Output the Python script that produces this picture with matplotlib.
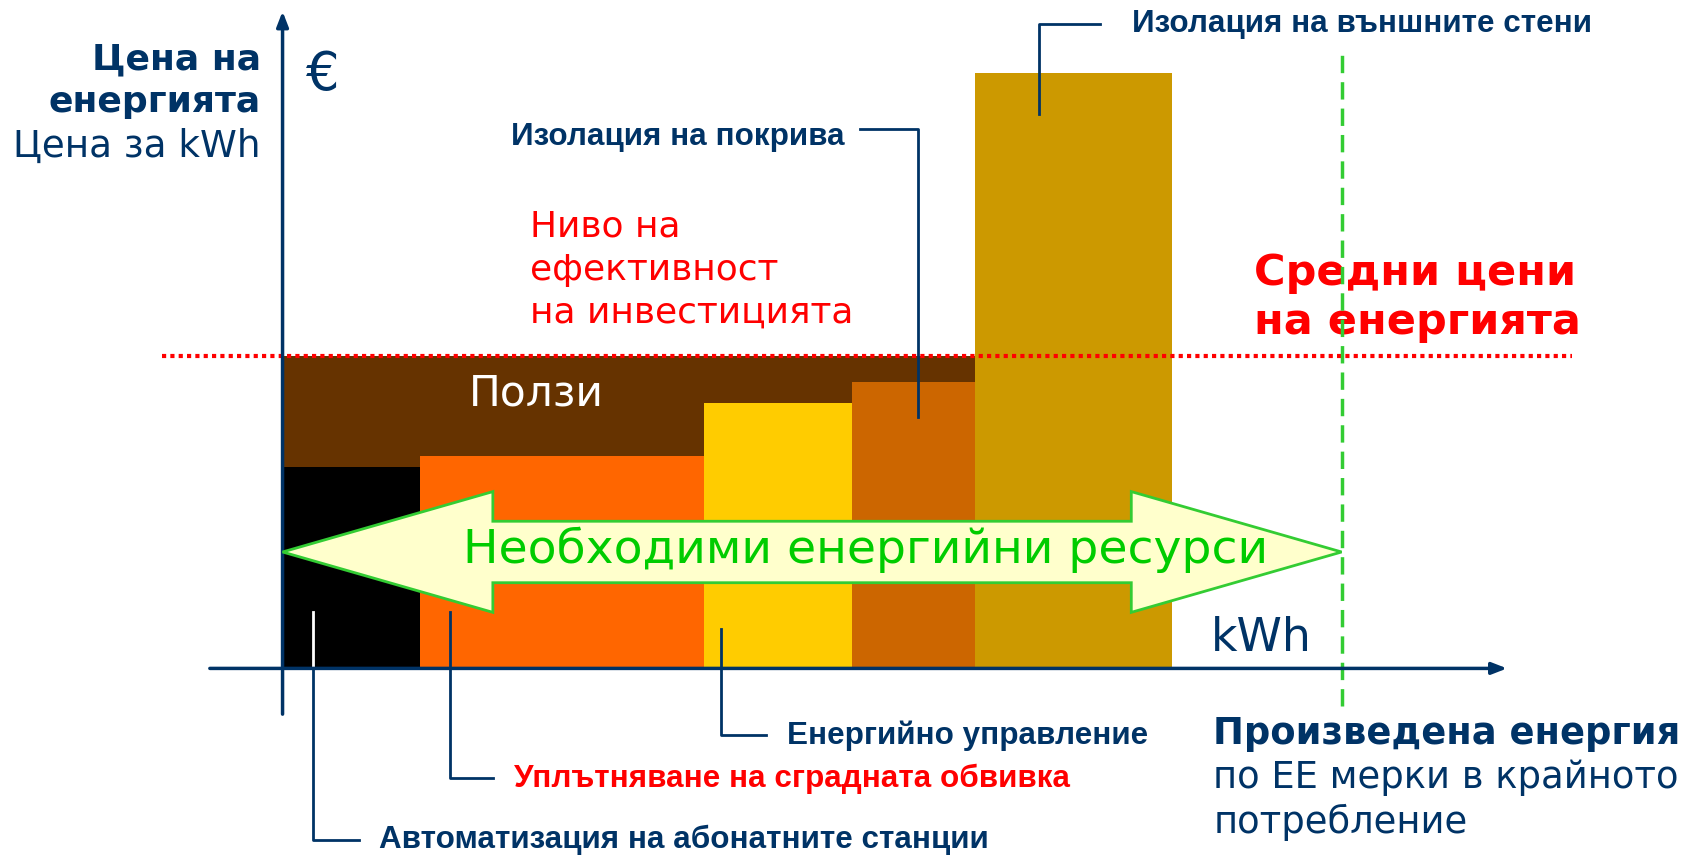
import numpy as np
import matplotlib
matplotlib.use("Agg")
import matplotlib.pyplot as plt
from matplotlib.patches import Polygon

# ---- data (arbitrary units: kWh on x, price on y) ----
measures = ["Автоматизация на абонатните станции",
            "Уплътняване на сградната обвивка",
            "Енергийно управление",
            "Изолация на покрива",
            "Изолация на външните стени"]
widths = [12.7, 26.4, 13.7, 11.4, 18.3]       # kWh saved per measure
heights = [18.7, 19.7, 24.6, 26.6, 55.2]      # cost per kWh
bar_colors = ["#000000", "#FF6600", "#FFCC00", "#CC6600", "#CC9900"]
avg_price = 29.0          # средни цени на енергията
produced = 98.2           # произведена енергия

NAVY = "#003366"
RED = "#FF0000"
GREEN = "#33CC33"

fig = plt.figure(figsize=(16.91, 8.56), dpi=100)
ax = fig.add_axes([0, 0, 1, 1])
ax.set_xlim(-26.2, 130.6)
ax.set_ylim(-17.4, 62.0)
ax.axis("off")

lefts = np.concatenate([[0], np.cumsum(widths)[:-1]])

# benefits area (Ползи)
ax.bar(0, avg_price, width=lefts[4], align="edge", color="#663300", zorder=1)
ax.bar(lefts, heights, width=widths, align="edge", color=bar_colors, zorder=2)

# average energy price line
ax.axhline(avg_price, xmin=(-11.2 + 26.2) / 156.8, xmax=(119.6 + 26.2) / 156.8,
           color=RED, ls=(0, (1, 1)), lw=3, zorder=5)
# produced energy line
ax.plot([produced, produced], [-3.5, 57.4], color=GREEN, ls=(0, (5, 2.6)), lw=2.5, zorder=6)

# axes arrows
ax.annotate("", xy=(0, 61.2), xytext=(0, -4.5),
            arrowprops=dict(arrowstyle="-|>,head_length=0.9,head_width=0.35",
                            color=NAVY, lw=2.5), zorder=7)
ax.annotate("", xy=(113.8, 0), xytext=(-7.0, 0),
            arrowprops=dict(arrowstyle="-|>,head_length=0.9,head_width=0.35",
                            color=NAVY, lw=2.5), zorder=7)

# double arrow "Необходими енергийни ресурси"
yc, sh, hh, hl = 10.8, 2.85, 5.6, 19.5
pts = [(0, yc), (hl, yc + hh), (hl, yc + sh), (produced - hl, yc + sh),
       (produced - hl, yc + hh), (produced, yc), (produced - hl, yc - hh),
       (produced - hl, yc - sh), (hl, yc - sh), (hl, yc - hh)]
ax.add_patch(Polygon(pts, closed=True, facecolor="#FFFFCC", edgecolor=GREEN,
                     lw=2, zorder=8))
ax.text(produced / 2 + 5, yc + 0.2, "Необходими енергийни ресурси", color="#00CC00",
        fontsize=34, ha="center", va="center", family="DejaVu Sans", zorder=9)

# leader lines for the measures
lead = dict(color=NAVY, lw=2, zorder=4)
lab = dict(fontsize=22.6, fontweight="bold", family="Liberation Sans", va="center")
# black bar
x = lefts[0] + 2.8
ax.plot([x, x], [5.2, 0], color="white", lw=2, zorder=4)
ax.plot([x, x, x + 4.3], [0, -15.9, -15.9], **lead)
ax.text(x + 6.1, -15.9, measures[0], color=NAVY, **lab)
# orange
x = lefts[1] + 2.8
ax.plot([x, x, x + 4.0], [5.2, -10.2, -10.2], **lead)
ax.text(x + 6.0, -10.2, measures[1], color=RED, **lab)
# yellow
x = lefts[2] + 1.6
ax.plot([x, x, x + 4.1], [3.7, -6.2, -6.2], **lead)
ax.text(x + 6.1, -6.2, measures[2], color=NAVY, **lab)
# dark orange
x = lefts[3] + 6.1
ax.plot([x, x, x - 5.4], [23.3, 50.0, 50.0], **lead)
ax.text(x - 6.8, 49.3, measures[3], color=NAVY, ha="right", **lab)
# gold
x = lefts[4] + 5.9
ax.plot([x, x, x + 5.7], [51.4, 59.8, 59.8], **lead)
ax.text(x + 8.7, 59.8, measures[4], color=NAVY, **lab)

# axis titles
ax.text(-2.0, 56.5, "Цена на", color=NAVY, fontsize=26, fontweight="bold",
        ha="right", va="center")
ax.text(-2.0, 52.5, "енергията", color=NAVY, fontsize=26, fontweight="bold",
        ha="right", va="center")
ax.text(-2.0, 48.4, "Цена за kWh", color=NAVY, fontsize=26.8, ha="right", va="center")
ax.text(2.2, 55.0, "€", color=NAVY, fontsize=38, va="center")
ax.text(86.1, 2.8, "kWh", color=NAVY, fontsize=33, va="center")
ax.text(86.3, -6.0, "Произведена енергия", color=NAVY, fontsize=26.6, fontweight="bold",
        va="center")
ax.text(86.3, -12.2, "по ЕЕ мерки в крайното\nпотребление", color=NAVY, fontsize=26.6,
        va="center", linespacing=1.28)

ax.text(22.9, 37.0, "Ниво на\nефективност\nна инвестицията", color=RED, fontsize=25.9,
        va="center", linespacing=1.35)
ax.text(90.1, 34.4, "Средни цени\nна енергията", color=RED, fontsize=31, fontweight="bold",
        va="center", linespacing=1.2, zorder=5)
ax.text(17.3, 25.5, "Ползи", color="white", fontsize=30.5, va="center", zorder=3)

fig.savefig("out.png", dpi=100)
